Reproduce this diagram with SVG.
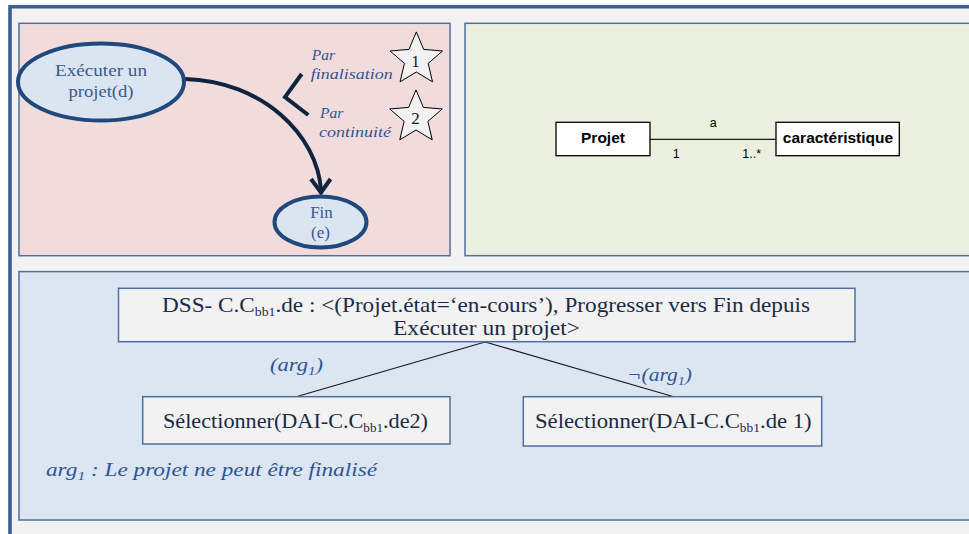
<svg xmlns="http://www.w3.org/2000/svg" width="969" height="534" viewBox="0 0 969 534">
<style>
.panel{stroke:#4f6fa0;stroke-width:1.5}
.ell{fill:#dbe5f1;stroke:#1f497d;stroke-width:4}
.etxt{font-family:"Liberation Serif","Times New Roman",serif;font-size:17px;fill:#3a5a8c;text-anchor:middle}
.itl{font-family:"Liberation Serif","Times New Roman",serif;font-style:italic;fill:#2f5496}
.star{fill:#f2f2f2;stroke:#000;stroke-width:1}
.num{font-family:"Liberation Serif","Times New Roman",serif;font-size:17px;fill:#1a1a1a;text-anchor:middle}
.uml{fill:#fff;stroke:#000;stroke-width:1.3}
.umlb{font-family:"Liberation Sans",Arial,sans-serif;font-weight:bold;font-size:15.5px;fill:#000;text-anchor:middle}
.umls{font-family:"Liberation Sans",Arial,sans-serif;font-size:12.5px;fill:#000;text-anchor:middle}
.box{fill:#f2f2f2;stroke:#4f6fa0;stroke-width:1.5}
.btxt{font-family:"Liberation Serif","Times New Roman",serif;font-size:22px;fill:#1b2a47;text-anchor:middle}
.heavy{fill:none;stroke:#0f243e;stroke-width:4}
.thin{fill:none;stroke:#1a1a1a;stroke-width:1.2}
</style>
<defs>
<path id="starShape" d="M0,-27.6 L7.35,-10.11 L26.25,-8.53 L11.89,3.86 L16.22,22.33 L0,12.5 L-16.22,22.33 L-11.89,3.86 L-26.25,-8.53 L-7.35,-10.11 Z"/>
</defs>
<rect x="0" y="0" width="969" height="534" fill="#ffffff"/>
<rect x="10" y="6.7" width="975" height="540" fill="#f2f2f2" stroke="#3a6090" stroke-width="3.6"/>

<g id="panel-behaviour">
<rect class="panel" x="19" y="23.3" width="431" height="232.4" fill="#f2dcdb"/>
</g>
<g id="panel-class">
<rect class="panel" x="465" y="23.3" width="520" height="232.4" fill="#ebefde"/>
</g>
<g id="panel-strategy">
<rect class="panel" x="19" y="271.6" width="970" height="248.4" fill="#dce6f2"/>
</g>

<g id="connectors">
<path class="heavy" d="M185,79 C262,81 318,135 321,191"/>
<path class="heavy" d="M311,179 L321,192.5 L330.5,179" stroke-linejoin="miter"/>
<line class="thin" x1="650" y1="139.3" x2="776" y2="139.3" stroke="#000"/>
<line class="thin" x1="485" y1="342" x2="297" y2="396.5"/>
<line class="thin" x1="485" y1="342" x2="673" y2="396.5"/>
</g>

<g id="node-executer">
<ellipse class="ell" cx="101" cy="82" rx="83" ry="38.5"/>
<text class="etxt" x="101" y="76" textLength="92" lengthAdjust="spacingAndGlyphs">Exécuter un</text>
<text class="etxt" x="101" y="96.7" textLength="65" lengthAdjust="spacingAndGlyphs">projet(d)</text>
</g>
<g id="node-fin">
<ellipse class="ell" cx="320.5" cy="222" rx="46" ry="25.5"/>
<text class="etxt" x="321.5" y="218.3">Fin</text>
<text class="etxt" x="320.5" y="238.3">(e)</text>
</g>
<g id="choice-bracket">
<path class="heavy" d="M301.7,74 L285,97 L308.3,115" stroke-linejoin="miter"/>
</g>
<g id="label-finalisation">
<text class="itl" font-size="15.5" x="311.7" y="60">Par</text>
<text class="itl" font-size="15.5" x="310.7" y="79" textLength="82" lengthAdjust="spacingAndGlyphs">finalisation</text>
</g>
<g id="label-continuite">
<text class="itl" font-size="15.5" x="320" y="118">Par</text>
<text class="itl" font-size="15.5" x="319" y="137" textLength="72" lengthAdjust="spacingAndGlyphs">continuité</text>
</g>
<g id="star-1">
<use href="#starShape" class="star" transform="translate(416.3,59.5)"/>
<text class="num" x="415.5" y="66.5">1</text>
</g>
<g id="star-2">
<use href="#starShape" class="star" transform="translate(416,117.5)"/>
<text class="num" x="415.5" y="124">2</text>
</g>

<g id="node-projet">
<rect class="uml" x="556" y="122.3" width="94" height="33.4"/>
<text class="umlb" x="603" y="142.7">Projet</text>
</g>
<g id="node-caracteristique">
<rect class="uml" x="776" y="122.3" width="123.3" height="33.4"/>
<text class="umlb" x="838" y="142.7">caractéristique</text>
</g>
<g id="assoc-labels">
<text class="umls" x="713.3" y="127">a</text>
<text class="umls" x="676.3" y="158.3">1</text>
<text class="umls" x="751.7" y="158.3">1..*</text>
</g>

<g id="node-dss">
<rect class="box" x="118.5" y="288.3" width="736.5" height="53.4"/>
<text class="btxt" x="486" y="311.7" textLength="648" lengthAdjust="spacingAndGlyphs">DSS- C.C<tspan font-size="13" dy="4">bb1</tspan><tspan dy="-4">.de : &lt;(Projet.état=‘en-cours’), Progresser vers Fin depuis</tspan></text>
<text class="btxt" x="486.5" y="335" textLength="187" lengthAdjust="spacingAndGlyphs">Exécuter un projet&gt;</text>
</g>
<g id="node-de2">
<rect class="box" x="142.7" y="396.7" width="307.3" height="47.3"/>
<text class="btxt" x="295.5" y="428" textLength="265" lengthAdjust="spacingAndGlyphs">Sélectionner(DAI-C.C<tspan font-size="13" dy="4">bb1</tspan><tspan dy="-4">.de2)</tspan></text>
</g>
<g id="node-de1">
<rect class="box" x="523.3" y="396.7" width="298.4" height="49.3"/>
<text class="btxt" x="673.3" y="428" textLength="276.7" lengthAdjust="spacingAndGlyphs">Sélectionner(DAI-C.C<tspan font-size="13" dy="4">bb1</tspan><tspan dy="-4">.de 1)</tspan></text>
</g>
<g id="branch-labels">
<text class="itl" font-size="18" x="270" y="371" textLength="53" lengthAdjust="spacingAndGlyphs">(arg<tspan font-size="12" dy="4">1</tspan><tspan dy="-4">)</tspan></text>
<text class="itl" font-size="18" x="627" y="381" textLength="65" lengthAdjust="spacingAndGlyphs">¬(arg<tspan font-size="12" dy="4">1</tspan><tspan dy="-4">)</tspan></text>
</g>
<g id="footnote">
<text class="itl" font-size="18" x="46" y="476" textLength="331" lengthAdjust="spacingAndGlyphs">arg<tspan font-size="12" dy="4">1</tspan><tspan dy="-4"> :  Le projet ne peut être finalisé</tspan></text>
</g>
</svg>
